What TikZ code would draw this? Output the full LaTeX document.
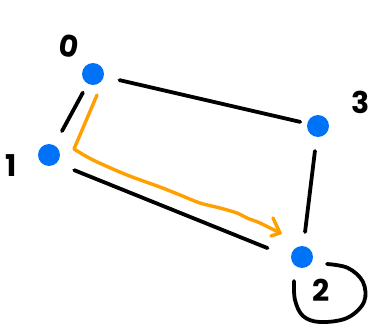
\documentclass[tikz,border=0pt]{standalone}
\usepackage{fontspec}
\setmainfont{Poppins}
\usetikzlibrary{calc}
\definecolor{nodeblue}{RGB}{0,114,248}
\definecolor{pathorange}{RGB}{255,160,0}
\begin{document}
\begin{tikzpicture}[x=1pt,y=-1pt,
  vertex/.style={circle,fill=nodeblue,draw=none,minimum size=22pt,inner sep=0pt},
  edge/.style={line width=3.8pt,black,line cap=round,line join=round},
  walk/.style={line width=3.4pt,pathorange,line cap=round,line join=round},
  lbl/.style={font=\fontsize{30}{30}\selectfont\bfseries,inner sep=0pt}]
\useasboundingbox (0,0) rectangle (370,324);
% vertices
\node[vertex] (n0) at (93,74) {};
\node[vertex] (n1) at (49,155) {};
\node[vertex] (n2) at (302,257) {};
\node[vertex] (n3) at (318,126) {};
% vertex labels
\node[lbl,rotate=-10] (l0) at (69,46) {0};
\node[lbl] (l1) at (11,166) {1};
\node[lbl] (l3) at (361,102) {3};
\node[lbl] (l2) at (321,290) {2};
% edges
\draw[edge,shorten <=16pt,shorten >=7pt] (n0) -- (n3);
\draw[edge,shorten <=10pt,shorten >=16pt] (n0) -- (n1);
\draw[edge,shorten <=14pt,shorten >=14pt] (n3) -- (n2);
\begin{scope}[transform canvas={yshift=-5pt}]
\draw[edge,shorten <=16pt,shorten >=26pt] (n1) -- (n2);
\end{scope}
% self loop on vertex 2
\draw[edge,shift={(n2.center)}] plot[smooth,tension=0.6] coordinates
  {(-8,24) (-7,43) (1,59) (18,65) (45,61) (62,45) (61,25) (46,11) (25,7)};
% highlighted walk 0 -> 1 -> 2
\coordinate (wstart) at (97,95);
\coordinate (wcorner) at (74,149);
\coordinate (wtip) at (280,233);
\draw[walk] (wstart) -- (wcorner)
  plot[smooth,tension=0.5] coordinates {(74,149) (93,160) (127,175) (160,187) (180,195) (200,203) (220,208) (237,213) (247,218) (260,223) (280,233)};
\draw[walk] (273,218) -- (wtip) -- (271,236);
\end{tikzpicture}
\end{document}
